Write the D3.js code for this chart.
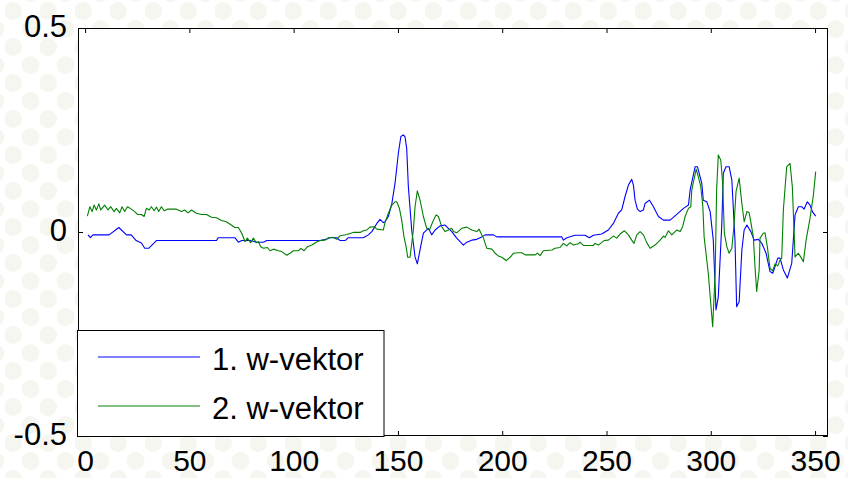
<!DOCTYPE html>
<html>
<head>
<meta charset="utf-8">
<script src="https://cdn.jsdelivr.net/npm/d3@7/dist/d3.min.js"></script>
<style>
  html, body { margin: 0; padding: 0; background: #ffffff; }
  svg { display: block; }
  text { font-family: "Liberation Sans", Arial, Helvetica, sans-serif; fill: #000; }
</style>
</head>
<body>
<svg id="chart" width="848" height="478"></svg>
<script>
// ---- data ----
const xTicks = [0, 50, 100, 150, 200, 250, 300, 350];
const yTicks = [-0.5, 0, 0.5];
const yTickLabels = ["-0.5", "0", "0.5"];
const seriesNames = ["1. w-vektor", "2. w-vektor"];

const w1X = [1.4,2.5,3.8,11.5,16.2,19.8,22.1,24.5,27.0,28.6,30.5,34.2,63.0,63.8,71.8,73.5,75.1,79.1,82.3,85.5,87.1,112.7,115.9,117.5,120.7,122.3,124.7,126.2,133.4,135.8,137.5,139.9,141.4,143.0,143.8,145.4,147.1,148.6,150.2,151.4,152.6,153.4,154.2,155.0,156.6,158.2,159.3,160.6,162.2,164.6,166.2,167.8,170.2,172.6,174.2,175.8,178.2,181.4,183.0,185.4,187.8,190.2,191.8,195.8,197.4,228.6,229.3,231.0,234.9,239.7,241.8,243.7,247.7,250.9,253.3,255.7,257.3,258.9,260.5,262.1,262.9,263.7,264.8,266.1,267.7,268.5,270.6,272.5,274.9,277.3,280.5,283.7,286.9,289.3,290.1,292.5,293.6,295.7,296.4,298.1,299.7,301.2,302.5,303.6,305.3,306.0,307.3,308.8,310.1,311.6,312.4,313.6,314.9,316.0,317.3,319.2,320.8,322.8,324.5,326.5,328.4,329.7,330.8,332.1,333.2,334.8,336.7,338.8,340.4,342.0,343.6,344.7,346.3,347.6,348.7,350.3];
const w1Y = [-0.007,-0.014,-0.007,-0.007,0.011,-0.007,-0.007,-0.021,-0.027,-0.040,-0.040,-0.021,-0.021,-0.014,-0.014,-0.025,-0.021,-0.021,-0.025,-0.025,-0.021,-0.021,-0.017,-0.014,-0.014,-0.021,-0.021,-0.014,-0.014,-0.007,0.001,0.021,0.031,0.023,0.025,0.038,0.070,0.119,0.193,0.234,0.238,0.233,0.205,0.111,0.005,-0.061,-0.078,-0.044,-0.003,0.009,-0.007,0.005,0.015,0.017,0.009,0.001,-0.015,-0.032,-0.025,-0.020,-0.018,-0.012,-0.007,-0.007,-0.012,-0.012,-0.020,-0.014,-0.008,-0.008,-0.014,-0.008,-0.005,0.005,0.021,0.046,0.054,0.087,0.115,0.129,0.115,0.078,0.056,0.050,0.054,0.070,0.078,0.062,0.038,0.029,0.029,0.043,0.058,0.066,0.103,0.160,0.160,0.119,0.078,0.074,0.050,-0.020,-0.191,-0.159,0.021,0.144,0.160,0.160,0.127,-0.020,-0.183,-0.171,-0.044,0.005,0.017,0.001,-0.020,-0.018,-0.028,-0.052,-0.097,-0.101,-0.085,-0.064,-0.064,-0.093,-0.113,-0.077,0.042,0.062,0.062,0.056,0.074,0.066,0.050,0.039];

const w2X = [1.1,2.3,3.4,4.3,5.4,6.6,7.5,9.4,11.0,12.3,13.9,15.0,16.6,17.7,19.0,20.3,22.2,23.8,25.1,27.0,28.3,29.4,30.7,31.8,33.1,34.2,35.3,36.6,37.9,39.5,43.8,46.2,47.8,49.4,51.0,53.4,55.8,58.2,60.6,63.0,65.4,67.7,70.1,71.8,73.5,75.1,76.7,77.8,79.4,80.7,82.0,83.1,84.2,85.5,87.4,88.7,90.3,92.7,94.3,96.7,98.3,99.9,102.3,103.4,105.0,106.6,108.7,110.8,112.7,115.1,116.7,118.8,120.7,122.3,125.5,128.6,131.9,133.4,135.1,136.6,138.6,139.9,143.0,143.8,145.4,147.1,148.6,149.4,150.7,151.8,152.9,153.9,154.7,155.8,157.4,158.2,159.3,160.6,162.2,163.8,165.1,166.7,168.3,169.4,171.0,172.6,174.2,175.8,176.6,178.2,180.6,183.0,185.4,187.8,188.9,190.2,191.0,192.6,195.0,196.6,198.2,199.8,201.9,203.8,205.4,207.8,209.4,211.0,215.8,216.9,218.2,219.7,223.8,225.3,227.7,229.3,231.0,232.5,234.1,236.5,237.3,238.9,243.7,244.5,246.1,248.8,250.9,253.3,254.9,256.5,258.6,260.5,262.1,263.2,264.5,266.1,267.7,269.3,270.9,273.3,275.7,277.3,278.1,279.7,281.3,282.9,283.7,285.3,286.5,287.7,289.3,290.4,290.9,293.0,294.0,295.2,296.2,296.8,298.8,300.9,302.1,302.8,303.6,304.8,305.7,306.5,307.7,308.8,310.1,311.2,312.1,313.6,314.9,316.0,317.3,318.4,319.3,320.4,321.2,322.0,323.2,323.6,325.2,326.0,327.1,328.4,329.7,330.8,332.1,333.2,334.0,334.8,336.4,338.0,339.1,340.4,342.0,343.1,344.4,345.7,347.6,349.2,350.3];
const w2Y = [0.039,0.062,0.050,0.066,0.054,0.069,0.054,0.066,0.054,0.062,0.050,0.058,0.047,0.062,0.050,0.062,0.056,0.050,0.043,0.043,0.038,0.058,0.054,0.062,0.052,0.061,0.050,0.062,0.052,0.056,0.056,0.050,0.054,0.047,0.054,0.046,0.043,0.043,0.036,0.035,0.028,0.025,0.017,0.011,0.011,-0.003,-0.024,-0.015,-0.026,-0.015,-0.026,-0.024,-0.036,-0.040,-0.038,-0.046,-0.042,-0.046,-0.048,-0.057,-0.052,-0.046,-0.046,-0.040,-0.046,-0.036,-0.032,-0.025,-0.021,-0.020,-0.014,-0.013,-0.018,-0.009,-0.006,-0.001,-0.001,0.003,0.005,0.012,0.013,0.007,0.005,0.023,0.046,0.066,0.074,0.074,0.058,0.029,-0.012,-0.036,-0.062,-0.062,0.005,0.062,0.101,0.078,0.038,0.009,0.005,0.025,0.042,0.038,0.013,0.001,0.005,0.009,0.001,-0.002,0.009,0.012,0.005,0.001,0.007,-0.007,-0.015,-0.040,-0.042,-0.052,-0.059,-0.062,-0.070,-0.062,-0.052,-0.051,-0.051,-0.056,-0.056,-0.052,-0.058,-0.046,-0.044,-0.040,-0.038,-0.028,-0.034,-0.026,-0.032,-0.029,-0.025,-0.033,-0.033,-0.028,-0.032,-0.021,-0.020,-0.010,-0.015,-0.005,0.003,-0.007,-0.020,-0.028,-0.007,0.001,-0.007,-0.026,-0.040,-0.032,-0.020,-0.010,-0.013,0.003,-0.007,0.001,0.005,0.001,0.013,0.038,0.058,0.062,0.103,0.154,0.136,0.111,0.062,-0.012,-0.101,-0.232,-0.101,0.103,0.189,0.176,0.119,-0.003,-0.036,-0.052,-0.040,0.021,0.099,0.132,0.070,0.025,0.050,0.047,0.021,-0.012,-0.085,-0.146,-0.093,-0.015,-0.003,-0.002,-0.036,-0.089,-0.095,-0.078,-0.083,-0.069,-0.064,0.054,0.160,0.168,0.111,-0.061,-0.052,-0.061,-0.073,-0.020,0.034,0.091,0.148];

const xDomain = [-3.4, 356.2];
const yDomain = [-0.5, 0.5];

// ---- layout ----
const W = 848, H = 478;
const plot = { left: 78, right: 828, top: 28, bottom: 436 };
const colors = ["#0000ff", "#008000"];

const svg = d3.select("#chart");

// background dot pattern
const defs = svg.append("defs");
const pat = defs.append("pattern")
  .attr("id", "dots").attr("patternUnits", "userSpaceOnUse")
  .attr("width", 35).attr("height", 36).attr("x", 5).attr("y", 2);
pat.append("rect").attr("width", 35).attr("height", 36).attr("fill", "#ffffff");
pat.append("circle").attr("cx", 8).attr("cy", 9).attr("r", 9).attr("fill", "#f6f6f1");
pat.append("circle").attr("cx", 25.5).attr("cy", 27).attr("r", 9).attr("fill", "#f6f6f1");
svg.append("rect").attr("width", W).attr("height", H).attr("fill", "url(#dots)");

// plot background
svg.append("rect")
  .attr("x", plot.left).attr("y", plot.top)
  .attr("width", plot.right - plot.left).attr("height", plot.bottom - plot.top)
  .attr("fill", "#ffffff");

const x = d3.scaleLinear().domain(xDomain).range([plot.left, plot.right]);
const y = d3.scaleLinear().domain(yDomain).range([plot.bottom, plot.top]);

// series
const series = [
  { name: seriesNames[0], xs: w1X, ys: w1Y, color: colors[0] },
  { name: seriesNames[1], xs: w2X, ys: w2Y, color: colors[1] }
];
const line = d3.line().x(d => x(d[0])).y(d => y(d[1]));
series.forEach(s => {
  const pts = s.xs.map((v, i) => [v, s.ys[i]]);
  svg.append("path")
    .datum(pts)
    .attr("d", line)
    .attr("fill", "none")
    .attr("stroke", s.color)
    .attr("stroke-width", 1.1)
    .attr("stroke-linejoin", "round");
});

// axes (inward ticks, MATLAB style)
const fs = 31;
const gB = svg.append("g").attr("transform", `translate(0,${plot.bottom})`)
  .call(d3.axisBottom(x).tickValues(xTicks).tickSizeInner(-5).tickSizeOuter(0).tickPadding(14).tickFormat(d3.format("d")));
const gT = svg.append("g").attr("transform", `translate(0,${plot.top})`)
  .call(d3.axisTop(x).tickValues(xTicks).tickSizeInner(-5).tickSizeOuter(0).tickFormat(""));
const gL = svg.append("g").attr("transform", `translate(${plot.left},0)`)
  .call(d3.axisLeft(y).tickValues(yTicks).tickSizeInner(-5).tickSizeOuter(0).tickPadding(11)
    .tickFormat((d, i) => yTickLabels[i]));
const gR = svg.append("g").attr("transform", `translate(${plot.right},0)`)
  .call(d3.axisRight(y).tickValues(yTicks).tickSizeInner(-5).tickSizeOuter(0).tickFormat(""));
[gB, gT, gL, gR].forEach(g => {
  g.select(".domain").remove();
  g.selectAll(".tick line").attr("stroke", "#000");
  g.selectAll("text").style("font-size", fs + "px").style("font-family", '"Liberation Sans", Arial, sans-serif').attr("fill", "#000");
});
gB.selectAll("text").style("font-size", "30px");
gL.selectAll("text").attr("dy", "0.28em");

// frame
svg.append("rect")
  .attr("x", plot.left + 0.5).attr("y", plot.top + 0.5)
  .attr("width", plot.right - plot.left - 1).attr("height", plot.bottom - plot.top - 1)
  .attr("fill", "none").attr("stroke", "#000").attr("stroke-width", 1);

// legend
const lg = { x: 77.5, y: 330.5, w: 306.5, h: 106 };
svg.append("rect")
  .attr("x", lg.x).attr("y", lg.y).attr("width", lg.w).attr("height", lg.h)
  .attr("fill", "#ffffff").attr("stroke", "#000").attr("stroke-width", 1);
series.forEach((s, i) => {
  const ly = 357 + i * 49;
  svg.append("line")
    .attr("x1", 98).attr("x2", 200).attr("y1", ly).attr("y2", ly)
    .attr("stroke", s.color).attr("stroke-width", 1);
  svg.append("text")
    .attr("x", 212).attr("y", ly + 12.5)
    .style("font-size", fs + "px")
    .text(s.name);
});
</script>
</body>
</html>
